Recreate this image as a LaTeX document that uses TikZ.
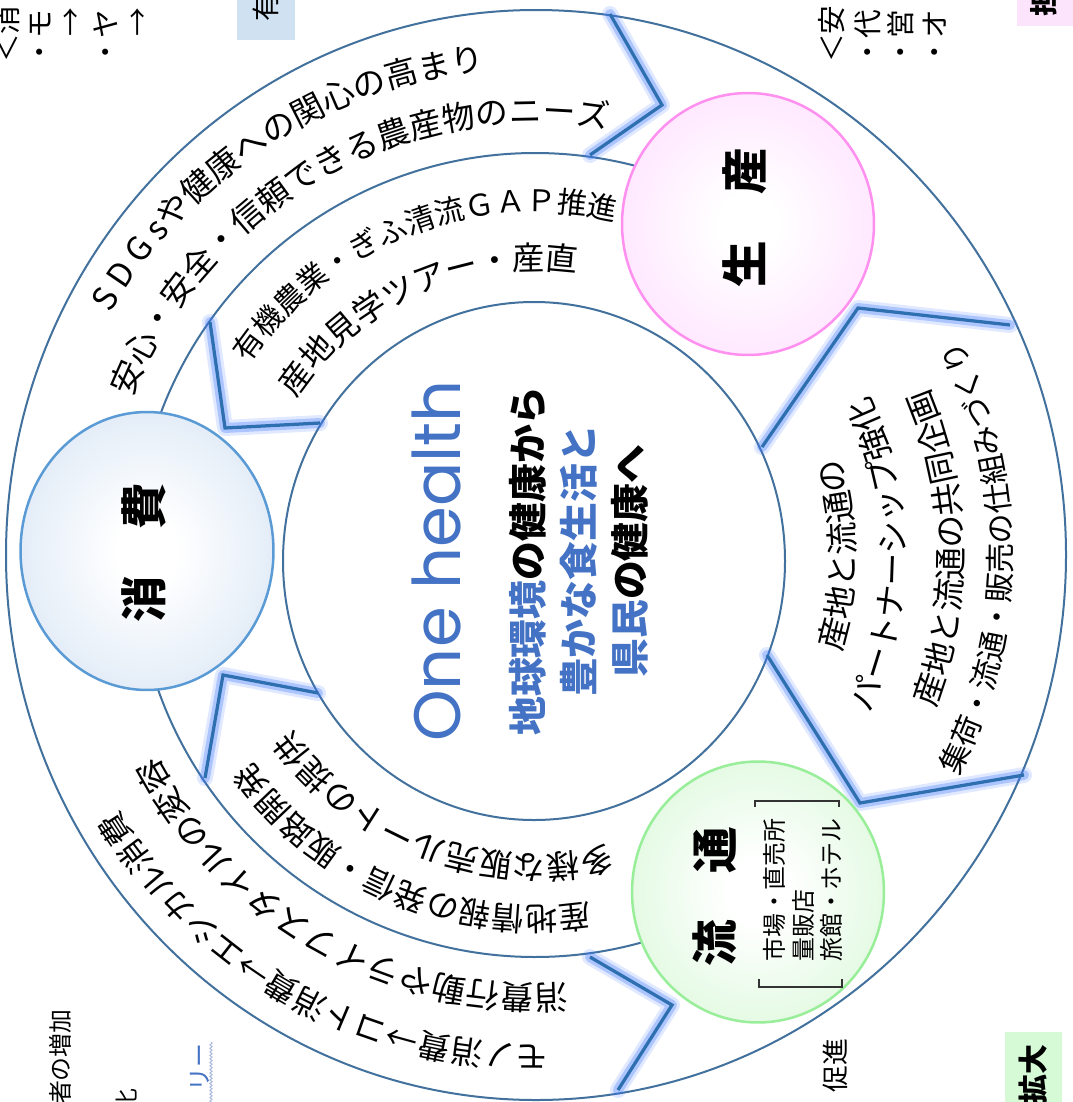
\documentclass[tikz,border=0pt]{standalone}
\usepackage{fontspec}
\newfontfamily\jp{Noto Sans CJK JP}
\newfontfamily\oh{Poppins}
\usetikzlibrary{decorations.text,decorations.pathmorphing,shapes.geometric}
\definecolor{ringc}{HTML}{41719C}
\definecolor{chev}{HTML}{2E6FB0}
\definecolor{glow}{HTML}{3F7BFF}
\definecolor{ohblue}{HTML}{4472C4}
\definecolor{conB}{HTML}{5B9BD5}
\definecolor{conF}{HTML}{C6DAF0}
\definecolor{proB}{HTML}{FF90F0}
\definecolor{proF}{HTML}{FFD0FF}
\definecolor{disB}{HTML}{99EE99}
\definecolor{disF}{HTML}{C8F5C8}
\definecolor{boxB}{HTML}{D0E1F2}
\definecolor{boxP}{HTML}{FDE4FD}
\definecolor{boxG}{HTML}{D5FAD5}
\definecolor{wavy}{HTML}{A9B9DD}
\colorlet{conM}{conF!45!white}
\colorlet{proM}{proF!45!white}
\colorlet{disM}{disF!45!white}
\pgfdeclareradialshading{conS}{\pgfpointorigin}{color(0bp)=(white); color(6bp)=(white); color(24bp)=(conM); color(50bp)=(conF)}
\pgfdeclareradialshading{proS}{\pgfpointorigin}{color(0bp)=(white); color(6bp)=(white); color(24bp)=(proM); color(50bp)=(proF)}
\pgfdeclareradialshading{disS}{\pgfpointorigin}{color(0bp)=(white); color(6bp)=(white); color(24bp)=(disM); color(50bp)=(disF)}
\newcommand\pfs[1]{\fontsize{#1}{#1}\selectfont}
\tikzset{
  ring/.style={draw=ringc, line width=0.04cm},
  glowA/.style={draw=glow, line width=0.32cm, opacity=0.16, line join=round, line cap=round},
  glowB/.style={draw=glow, line width=0.20cm, opacity=0.32, line join=round, line cap=round},
  chevline/.style={draw=chev, line width=0.065cm, line join=miter},
  hub/.style={ellipse, inner sep=0, line width=0.05cm},
  hubtext/.style={rotate=90, inner sep=0, font=\jp\bfseries\pfs{26.5pt}},
  frag/.style={rotate=90, anchor=west, inner sep=0, font=\jp\pfs{16.3pt}},
  fragE/.style={rotate=90, anchor=east, inner sep=0, font=\jp\pfs{13.6pt}},
}
\newcommand\bandtext[5]{% #1 center angle, #2 radius, #3 half span (signed), #4 font size, #5 text
  \path[decorate, decoration={text along path, text align=center,
     text={|\jp\pfs{#4}|#5}}]
     ({#1+#3}:#2) arc[start angle={#1+#3}, end angle={#1-#3}, radius=#2];}
\begin{document}
\begin{tikzpicture}[x=0.02cm,y=0.02cm]
\useasboundingbox (0,0) rectangle (1072,-1102);
\fill[white] (0,0) rectangle (1072,-1102);

% side boxes (cut by the page edge)
\fill[boxB] (237,5) rectangle (295,-40);
\fill[boxP] (1017,5) rectangle (1080,-26);
\fill[boxG] (1005,-1032) rectangle (1062,-1110);

% rings
\draw[ring] (536,-555) ellipse[x radius=530, y radius=545];
\draw[ring] (534,-561) ellipse[x radius=251, y radius=259];
\draw[ring] (535,-555) ++(165:400 and 402) arc[start angle=165, end angle=60, x radius=400, y radius=402];
\draw[ring] (535,-555) ++(-165:400 and 402) arc[start angle=-165, end angle=-60, x radius=400, y radius=402];

% chevron ends
\coordinate (a1) at (610,-14);  \coordinate (a2) at (662,-105); \coordinate (a3) at (590,-155);
\coordinate (b1) at (210,-322); \coordinate (b2) at (225,-428); \coordinate (b3) at (320,-423);
\coordinate (c1) at (1010,-325);\coordinate (c2) at (858,-308); \coordinate (c3) at (762,-447);
\coordinate (d1) at (767,-655); \coordinate (d2) at (860,-803); \coordinate (d3) at (1024,-775);
\coordinate (e1) at (318,-693); \coordinate (e2) at (223,-675); \coordinate (e3) at (205,-778);
\coordinate (g1) at (590,-957); \coordinate (g2) at (672,-1005);\coordinate (g3) at (618,-1090);
\foreach \p in {a,b,c,d,e,g}{
  \draw[glowA] (\p1) -- (\p2) -- (\p3);
  \draw[glowB] (\p1) -- (\p2) -- (\p3);
  \draw[chevline] (\p1) -- (\p2) -- (\p3);
}

% hubs
\node[hub, draw=conB, shading=conS, minimum width=5.06cm, minimum height=5.56cm] (con) at (147,-551) {};
\node[hub, draw=proB, shading=proS, minimum width=5.04cm, minimum height=5.24cm] (pro) at (748,-224) {};
\node[hub, draw=disB, shading=disS, minimum width=5.04cm, minimum height=5.22cm] (dis) at (758,-892) {};
\node[hubtext] (conT) at (144,-553) {消　費};
\node[hubtext] (proT) at (745,-218) {生　産};
\node[hubtext] (disT) at (715,-897) {流　通};
\node[rotate=90, inner sep=0, align=left, font=\jp\fontsize{13.6pt}{16.4pt}\selectfont] (disL) at (803,-890) {市場・直売所\\量販店\\旅館・ホテル};
\coordinate (k1) at (755,-807); \coordinate (k2) at (755,-801); \coordinate (k3) at (839,-801); \coordinate (k4) at (839,-807);
\coordinate (m1) at (759,-979); \coordinate (m2) at (759,-987); \coordinate (m3) at (842,-987); \coordinate (m4) at (842,-979);
\draw[line width=0.03cm, black!80] (k1) -- (k2) -- (k3) -- (k4);
\draw[line width=0.03cm, black!80] (m1) -- (m2) -- (m3) -- (m4);

% centre
\node[rotate=90, inner sep=0, text=ohblue, font=\oh\pfs{37.4pt}] (oh) at (436,-561) {One health};
\node[rotate=90, inner sep=0, align=center, font=\jp\bfseries\fontsize{22.1pt}{28.9pt}\selectfont] (msg) at (579,-561)
  {\textcolor{ohblue}{地球環境}の健康から\\\textcolor{ohblue}{豊かな食生活と}\\\textcolor{ohblue}{県民}の健康へ};

% band texts
\begin{scope}[shift={(535,-557)}]
\bandtext{123}{489}{40}{18.7pt}{S D G sや健康への関心の高まり}
\bandtext{119.4}{434}{45}{18.7pt}{安心・安全・信頼できる農産物のニーズ}
\bandtext{111.3}{345}{40}{17pt}{有機農業・ぎふ清流ＧＡＰ推進}
\bandtext{114}{287}{42}{18.5pt}{産地見学ツアー・産直}
\bandtext{0.4}{320}{-45}{18.7pt}{産地と流通の}
\bandtext{0.5}{370}{-45}{18.7pt}{パートナーシップ強化}
\bandtext{1.3}{428}{-45}{18.7pt}{産地と流通の共同企画}
\bandtext{-0.15}{477}{-45}{17.2pt}{集荷・流通・販売の仕組みづくり}
\bandtext{-118.6}{488}{40}{18.3pt}{モノ消費→コト消費→エシカル消費}
\bandtext{-119}{428}{42}{18.9pt}{消費行動やライフスタイルの変容}
\bandtext{-112.7}{350}{42}{18.3pt}{産地情報の発信・販路開発}
\bandtext{-110}{298}{45}{18.7pt}{多様な販売ルートの提供}
\end{scope}

% fragments at the page edges
\node[frag] (f1) at (7,-63) {＜消};
\node[frag] (f2) at (41,-67) {・モ};
\node[frag] (f3) at (73,-37) {→};
\node[frag] (f4) at (106,-67) {・ヤ};
\node[frag] (f5) at (140,-37) {→};
\node[frag, font=\jp\pfs{16pt}] (f6) at (266,-22) {有};
\node[frag] (f7) at (832,-63) {＜安};
\node[frag] (f8) at (868,-67) {・代};
\node[frag] (f9) at (901,-67) {・営};
\node[frag] (f10) at (935,-67) {・オ};
\node[frag, font=\jp\bfseries\pfs{16pt}] (f11) at (1044,-17) {担};
\node[fragE] (f12) at (60,-1009) {者の増加};
\node[fragE] (f13) at (127,-1088) {化};
\node[fragE, text=ohblue] (f14) at (200,-1043) {リー};
\coordinate (w1) at (211,-1042); \coordinate (w2) at (211,-1104);
\draw[wavy, line width=0.02cm, decorate, decoration={snake, amplitude=0.6pt, segment length=2pt}] (w1) -- (w2);
\node[fragE, font=\jp\pfs{15.3pt}] (f15) at (835,-1038) {促進};
\node[fragE, font=\jp\bfseries\pfs{17pt}] (f16) at (1033,-1044) {拡大};
\end{tikzpicture}
\end{document}
